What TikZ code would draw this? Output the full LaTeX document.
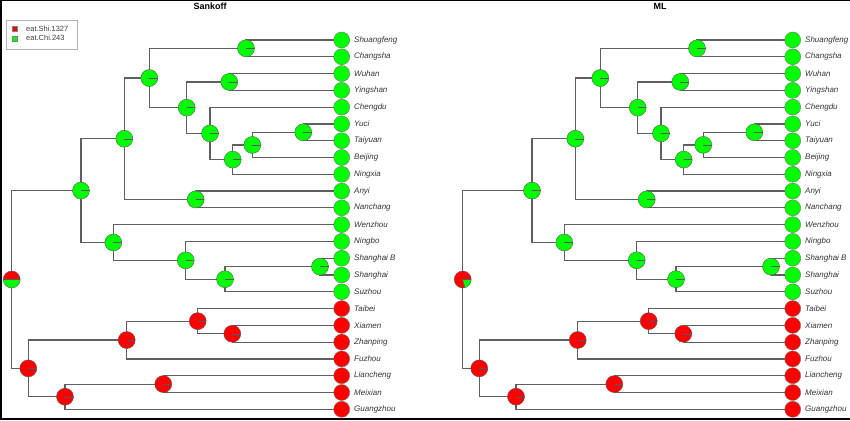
\documentclass[tikz,border=0pt]{standalone}
\usepackage{fontspec}
\setmainfont{Liberation Sans}
\definecolor{pred}{RGB}{255,0,0}
\definecolor{pgreen}{RGB}{0,255,0}
\definecolor{edgecol}{RGB}{95,95,95}
\tikzset{
  edge/.style={draw=edgecol, line width=1.2pt},
  leafg/.style={circle, fill=pgreen, draw=black!55, line width=0.4pt, minimum size=16pt, inner sep=0pt},
  leafr/.style={circle, fill=pred, draw=black!55, line width=0.4pt, minimum size=16pt, inner sep=0pt},
  lab/.style={anchor=west, inner sep=0pt, font=\itshape\fontsize{8}{9}\selectfont, text=black!80},
  pieline/.style={draw=black!65, line width=0.4pt},
  ttl/.style={font=\bfseries\fontsize{9}{10}\selectfont, inner sep=0pt},
  legtext/.style={anchor=west, inner sep=0pt, font=\fontsize{7.5}{8}\selectfont, text=black!75}
}
\newcommand\piefull[2]{\fill[#2] (#1) circle[radius=8.5pt]; \draw[pieline] (#1) circle[radius=8.5pt]; \draw[pieline] (#1) -- ++(8.5pt,0);}
\newcommand\piemix[2]{% #1 node, #2 angle where red ends
  \fill[pred] (#1) -- ++(0:8.5pt) arc[start angle=0, end angle=#2, radius=8.5pt] -- cycle;
  \fill[pgreen] (#1) -- ++(#2:8.5pt) arc[start angle=#2, end angle=360, radius=8.5pt] -- cycle;
  \draw[pieline] (#1) circle[radius=8.5pt];
  \draw[pieline] (#1) -- ++(0:8.5pt); \draw[pieline] (#1) -- ++(#2:8.5pt);}
\newcommand\phylo[2]{%
\begin{scope}[xshift=#2pt]
  \node[leafg] (#1l0) at (341.7,380) {};    \node[lab] (#1t0) at (354,380) {Shuangfeng};
  \node[leafg] (#1l1) at (341.7,363.21) {}; \node[lab] (#1t1) at (354,363.21) {Changsha};
  \node[leafg] (#1l2) at (341.7,346.43) {}; \node[lab] (#1t2) at (354,346.43) {Wuhan};
  \node[leafg] (#1l3) at (341.7,329.64) {}; \node[lab] (#1t3) at (354,329.64) {Yingshan};
  \node[leafg] (#1l4) at (341.7,312.86) {}; \node[lab] (#1t4) at (354,312.86) {Chengdu};
  \node[leafg] (#1l5) at (341.7,296.07) {}; \node[lab] (#1t5) at (354,296.07) {Yuci};
  \node[leafg] (#1l6) at (341.7,279.29) {}; \node[lab] (#1t6) at (354,279.29) {Taiyuan};
  \node[leafg] (#1l7) at (341.7,262.5) {};  \node[lab] (#1t7) at (354,262.5) {Beijing};
  \node[leafg] (#1l8) at (341.7,245.71) {}; \node[lab] (#1t8) at (354,245.71) {Ningxia};
  \node[leafg] (#1l9) at (341.7,228.93) {}; \node[lab] (#1t9) at (354,228.93) {Anyi};
  \node[leafg] (#1l10) at (341.7,212.14) {}; \node[lab] (#1t10) at (354,212.14) {Nanchang};
  \node[leafg] (#1l11) at (341.7,195.36) {}; \node[lab] (#1t11) at (354,195.36) {Wenzhou};
  \node[leafg] (#1l12) at (341.7,178.57) {}; \node[lab] (#1t12) at (354,178.57) {Ningbo};
  \node[leafg] (#1l13) at (341.7,161.79) {}; \node[lab] (#1t13) at (354,161.79) {Shanghai B};
  \node[leafg] (#1l14) at (341.7,145) {};    \node[lab] (#1t14) at (354,145) {Shanghai};
  \node[leafg] (#1l15) at (341.7,128.21) {}; \node[lab] (#1t15) at (354,128.21) {Suzhou};
  \node[leafr] (#1l16) at (341.7,111.43) {}; \node[lab] (#1t16) at (354,111.43) {Taibei};
  \node[leafr] (#1l17) at (341.7,94.64) {};  \node[lab] (#1t17) at (354,94.64) {Xiamen};
  \node[leafr] (#1l18) at (341.7,77.86) {};  \node[lab] (#1t18) at (354,77.86) {Zhanping};
  \node[leafr] (#1l19) at (341.7,61.07) {};  \node[lab] (#1t19) at (354,61.07) {Fuzhou};
  \node[leafr] (#1l20) at (341.7,44.29) {};  \node[lab] (#1t20) at (354,44.29) {Liancheng};
  \node[leafr] (#1l21) at (341.7,27.5) {};   \node[lab] (#1t21) at (354,27.5) {Meixian};
  \node[leafr] (#1l22) at (341.7,10.71) {};  \node[lab] (#1t22) at (354,10.71) {Guangzhou};
  \coordinate (#1A) at (246,371.61);
  \coordinate (#1D) at (229.3,338.04);
  \coordinate (#1H) at (303.3,287.68);
  \coordinate (#1G) at (252.3,275.09);
  \coordinate (#1F) at (232.7,260.4);
  \coordinate (#1E) at (210,286.63);
  \coordinate (#1C) at (186.7,312.34);
  \coordinate (#1B) at (149.3,341.98);
  \coordinate (#1J) at (195.7,220.54);
  \coordinate (#1I) at (124.3,281.26);
  \coordinate (#1O) at (320,153.4);
  \coordinate (#1N) at (225,140.8);
  \coordinate (#1M) at (185.7,159.69);
  \coordinate (#1L) at (113.3,177.53);
  \coordinate (#1K) at (81,229.4);
  \coordinate (#1U) at (232.3,86.25);
  \coordinate (#1T) at (197.7,98.84);
  \coordinate (#1Q) at (126.7,79.96);
  \coordinate (#1V) at (163.3,35.9);
  \coordinate (#1S) at (65,23.3);
  \coordinate (#1P) at (28.3,51.63);
  \coordinate (#1R) at (11.7,140.5);
  \draw[edge] (#1A) |- (#1l0);  \draw[edge] (#1A) |- (#1l1);
  \draw[edge] (#1D) |- (#1l2);  \draw[edge] (#1D) |- (#1l3);
  \draw[edge] (#1H) |- (#1l5);  \draw[edge] (#1H) |- (#1l6);
  \draw[edge] (#1G) |- (#1H);   \draw[edge] (#1G) |- (#1l7);
  \draw[edge] (#1F) |- (#1G);   \draw[edge] (#1F) |- (#1l8);
  \draw[edge] (#1E) |- (#1l4);  \draw[edge] (#1E) |- (#1F);
  \draw[edge] (#1C) |- (#1D);   \draw[edge] (#1C) |- (#1E);
  \draw[edge] (#1B) |- (#1A);   \draw[edge] (#1B) |- (#1C);
  \draw[edge] (#1J) |- (#1l9);  \draw[edge] (#1J) |- (#1l10);
  \draw[edge] (#1I) |- (#1B);   \draw[edge] (#1I) |- (#1J);
  \draw[edge] (#1O) |- (#1l13); \draw[edge] (#1O) |- (#1l14);
  \draw[edge] (#1N) |- (#1O);   \draw[edge] (#1N) |- (#1l15);
  \draw[edge] (#1M) |- (#1l12); \draw[edge] (#1M) |- (#1N);
  \draw[edge] (#1L) |- (#1l11); \draw[edge] (#1L) |- (#1M);
  \draw[edge] (#1K) |- (#1I);   \draw[edge] (#1K) |- (#1L);
  \draw[edge] (#1U) |- (#1l17); \draw[edge] (#1U) |- (#1l18);
  \draw[edge] (#1T) |- (#1l16); \draw[edge] (#1T) |- (#1U);
  \draw[edge] (#1Q) |- (#1T);   \draw[edge] (#1Q) |- (#1l19);
  \draw[edge] (#1V) |- (#1l20); \draw[edge] (#1V) |- (#1l21);
  \draw[edge] (#1S) |- (#1V);   \draw[edge] (#1S) |- (#1l22);
  \draw[edge] (#1P) |- (#1Q);   \draw[edge] (#1P) |- (#1S);
  \draw[edge] (#1R) |- (#1K);   \draw[edge] (#1R) |- (#1P);
  \piefull{#1A}{pgreen} \piefull{#1D}{pgreen} \piefull{#1H}{pgreen}
  \piefull{#1G}{pgreen} \piefull{#1F}{pgreen} \piefull{#1E}{pgreen}
  \piefull{#1C}{pgreen} \piefull{#1B}{pgreen} \piefull{#1J}{pgreen}
  \piefull{#1I}{pgreen} \piefull{#1O}{pgreen} \piefull{#1N}{pgreen}
  \piefull{#1M}{pgreen} \piefull{#1L}{pgreen} \piefull{#1K}{pgreen}
  \piefull{#1U}{pred} \piefull{#1T}{pred} \piefull{#1Q}{pred}
  \piefull{#1V}{pred} \piefull{#1S}{pred} \piefull{#1P}{pred}
\end{scope}}
\begin{document}
\begin{tikzpicture}[x=1pt,y=1pt]
  \useasboundingbox (0,0) rectangle (850,420);
  \fill[white] (0,0) rectangle (850,420);
  \phylo{s}{0}
  \phylo{m}{451}
  \piemix{sR}{180}
  \piemix{mR}{285}
  \node[ttl] (title1) at (210,414) {Sankoff};
  \node[ttl] (title2) at (660,414) {ML};
  \node[draw=black!30, line width=0.6pt, minimum width=70.6pt, minimum height=29pt, inner sep=0pt] (legbox) at (42,385.5) {};
  \node[fill=pred, draw=black!50, line width=0.3pt, minimum size=5pt, inner sep=0pt] (legr) at (15,391) {};
  \node[fill=pgreen, draw=black!50, line width=0.3pt, minimum size=5pt, inner sep=0pt] (legg) at (15,381.7) {};
  \node[legtext] (legrt) at (26,391) {eat.Shi.1327};
  \node[legtext] (leggt) at (26,381.7) {eat.Chi.243};
  \fill[black] (0,0) rectangle (2,420);
  \fill[black] (0,0) rectangle (850,2);
  \fill[black] (0,419) rectangle (850,420);
\end{tikzpicture}
\end{document}
